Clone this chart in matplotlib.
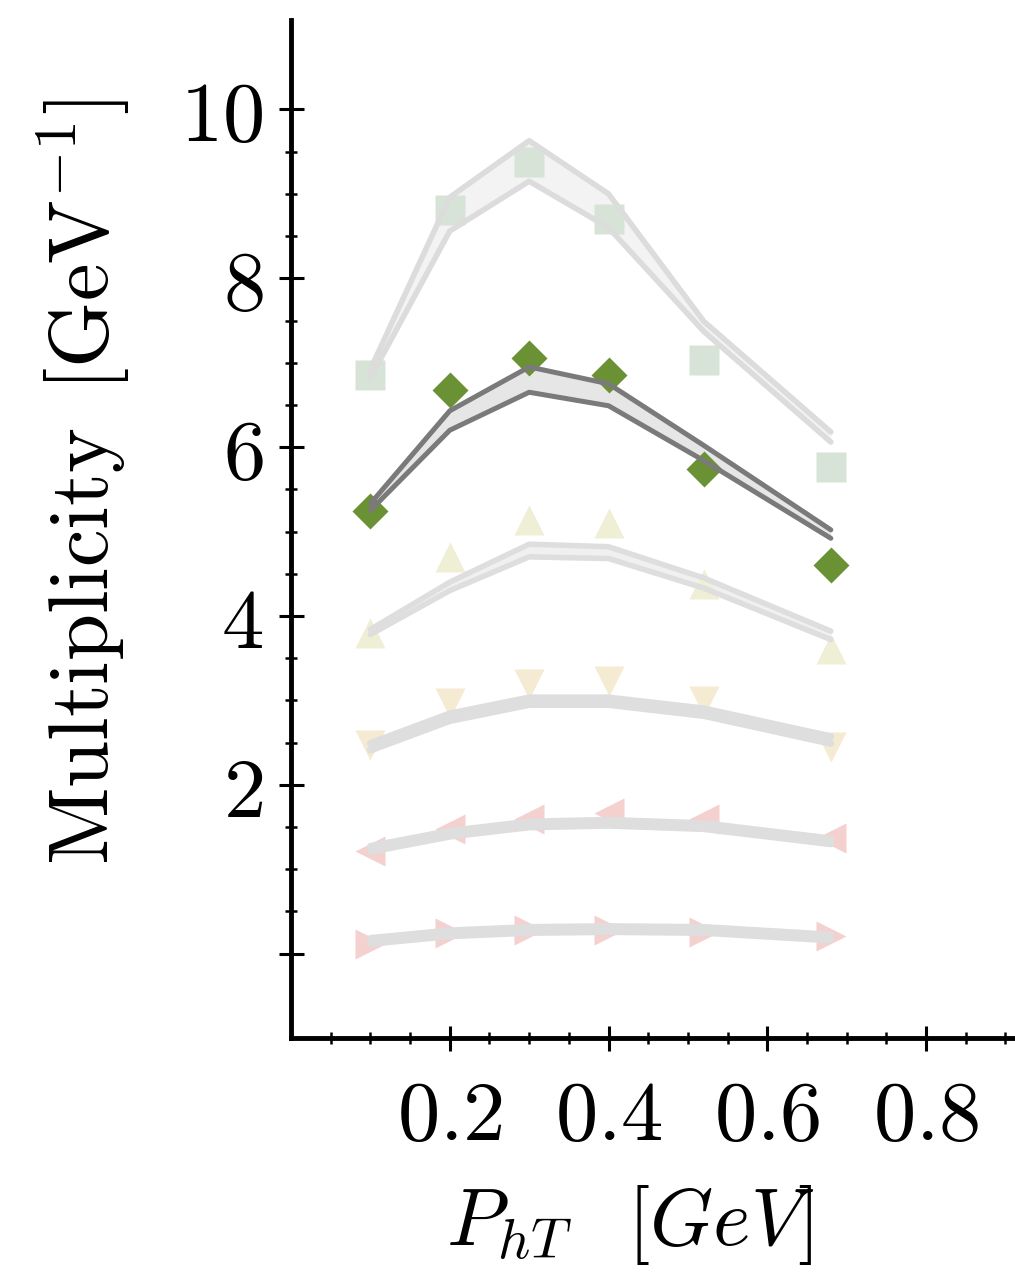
import numpy as np
import matplotlib
matplotlib.use("Agg")
import matplotlib.pyplot as plt
from matplotlib.ticker import FixedLocator

plt.rcParams['mathtext.fontset'] = 'cm'
plt.rcParams['font.family'] = ['DejaVu Serif']

# ---------------- data ----------------
pht = [0.1, 0.2, 0.3, 0.4, 0.52, 0.68]

sq_pts = [6.85, 8.81, 9.38, 8.70, 7.03, 5.77]
sq_hi = [6.92, 8.96, 9.63, 9.00, 7.49, 6.18]
sq_lo = [6.82, 8.56, 9.15, 8.60, 7.37, 6.06]

dm_pts = [5.24, 6.68, 7.06, 6.85, 5.74, 4.60]
dm_hi = [5.33, 6.43, 6.95, 6.75, 6.02, 5.02]
dm_lo = [5.25, 6.20, 6.65, 6.49, 5.84, 4.92]

up_pts = [3.80, 4.70, 5.14, 5.10, 4.38, 3.61]
up_hi = [3.84, 4.40, 4.85, 4.82, 4.45, 3.82]
up_lo = [3.78, 4.30, 4.70, 4.68, 4.33, 3.72]

dn_pts = [2.47, 2.97, 3.19, 3.23, 2.99, 2.45]
dn_hi = [2.49, 2.84, 3.03, 3.03, 2.90, 2.57]
dn_lo = [2.41, 2.76, 2.95, 2.95, 2.82, 2.49]

lt_pts = [1.22, 1.48, 1.59, 1.66, 1.59, 1.37]
lt_hi = [1.27, 1.45, 1.56, 1.58, 1.54, 1.36]
lt_lo = [1.21, 1.39, 1.50, 1.52, 1.48, 1.30]

rt_pts = [0.11, 0.24, 0.28, 0.28, 0.26, 0.21]
rt_hi = [0.18, 0.27, 0.31, 0.32, 0.31, 0.22]
rt_lo = [0.12, 0.21, 0.25, 0.26, 0.25, 0.16]

xticks = [0.2, 0.4, 0.6, 0.8]
xticklabels = ['$0.2$', '$0.4$', '$0.6$', '$0.8$']
yticks = [0, 2, 4, 6, 8, 10]
yticklabels = ['', '$2$', '$4$', '$6$', '$8$', '$10$']

# ---------------- figure ----------------
W, H = 1015, 1275
fig = plt.figure(figsize=(W / 100, H / 100), dpi=100)
ax = fig.add_axes([291 / W, 237 / H, 1 - 291 / W, (1038 - 20) / H])

series = [
    (sq_pts, sq_hi, sq_lo, 's', 21, '#d6e3d6', '#dcdcdc', 4.0, '#f3f3f3'),
    (dm_pts, dm_hi, dm_lo, 'D', 18.5, '#6b9135', '#7a7a7a', 3.6, '#e6e6e6'),
    (up_pts, up_hi, up_lo, '^', 21, '#efefd6', '#dedede', 4.0, '#f0f0f0'),
    (dn_pts, dn_hi, dn_lo, 'v', 21, '#f5ead2', '#dedede', 5.0, '#e2e2e2'),
    (lt_pts, lt_hi, lt_lo, '<', 21, '#f4d0cf', '#dedede', 5.0, '#e2e2e2'),
    (rt_pts, rt_hi, rt_lo, '>', 21, '#f4d0cf', '#dedede', 5.0, '#e2e2e2'),
]

for pts, hi, lo, mk, ms, mc, lc, lw, fc in series:
    ax.fill_between(pht, lo, hi, color=fc, lw=0, zorder=2)
    ax.plot(pht, pts, linestyle='none', marker=mk, markersize=ms,
            markerfacecolor=mc, markeredgecolor='none', zorder=3)
    ax.plot(pht, hi, color=lc, lw=lw, solid_capstyle='round',
            solid_joinstyle='round', zorder=4)
    ax.plot(pht, lo, color=lc, lw=lw, solid_capstyle='round',
            solid_joinstyle='round', zorder=4)

ax.set_xlim(0, 0.912)
ax.set_ylim(-1.0, 11.06)

for s in ['top', 'right']:
    ax.spines[s].set_visible(False)
for s in ['left', 'bottom']:
    ax.spines[s].set_linewidth(3.5)
    ax.spines[s].set_color('black')

ax.set_xticks(xticks)
ax.set_xticklabels(xticklabels)
ax.set_yticks(yticks)
ax.set_yticklabels(yticklabels)
ax.xaxis.set_minor_locator(FixedLocator(
    [v for v in np.arange(0.05, 0.91, 0.05) if abs(v / 0.2 - round(v / 0.2)) > 1e-6]))
ax.yaxis.set_minor_locator(FixedLocator(
    [v for v in np.arange(0.5, 10.0, 0.5) if abs(v / 2 - round(v / 2)) > 1e-6]))

ax.tick_params(which='major', direction='inout', length=18, width=2.2,
               labelsize=61, color='black')
ax.tick_params(which='minor', direction='inout', length=9, width=1.8,
               color='black')
ax.tick_params(axis='x', which='major', pad=18)
ax.tick_params(axis='y', which='major', pad=11)

fig.text(83 / W, 1 - 482 / H, r'$\mathrm{Multiplicity}\ \,[\mathrm{GeV}^{-1}]$',
         rotation=90, ha='center', va='center', fontsize=61)
fig.text(630 / W, 1 - 1225 / H, r'$P_{hT}\ \enspace[GeV]$',
         ha='center', va='center', fontsize=58)
fig.text(502 / W, 1.021, r'$(\mathrm{a})$', ha='center', va='baseline', fontsize=56)

fig.savefig('out.png', dpi=100)
